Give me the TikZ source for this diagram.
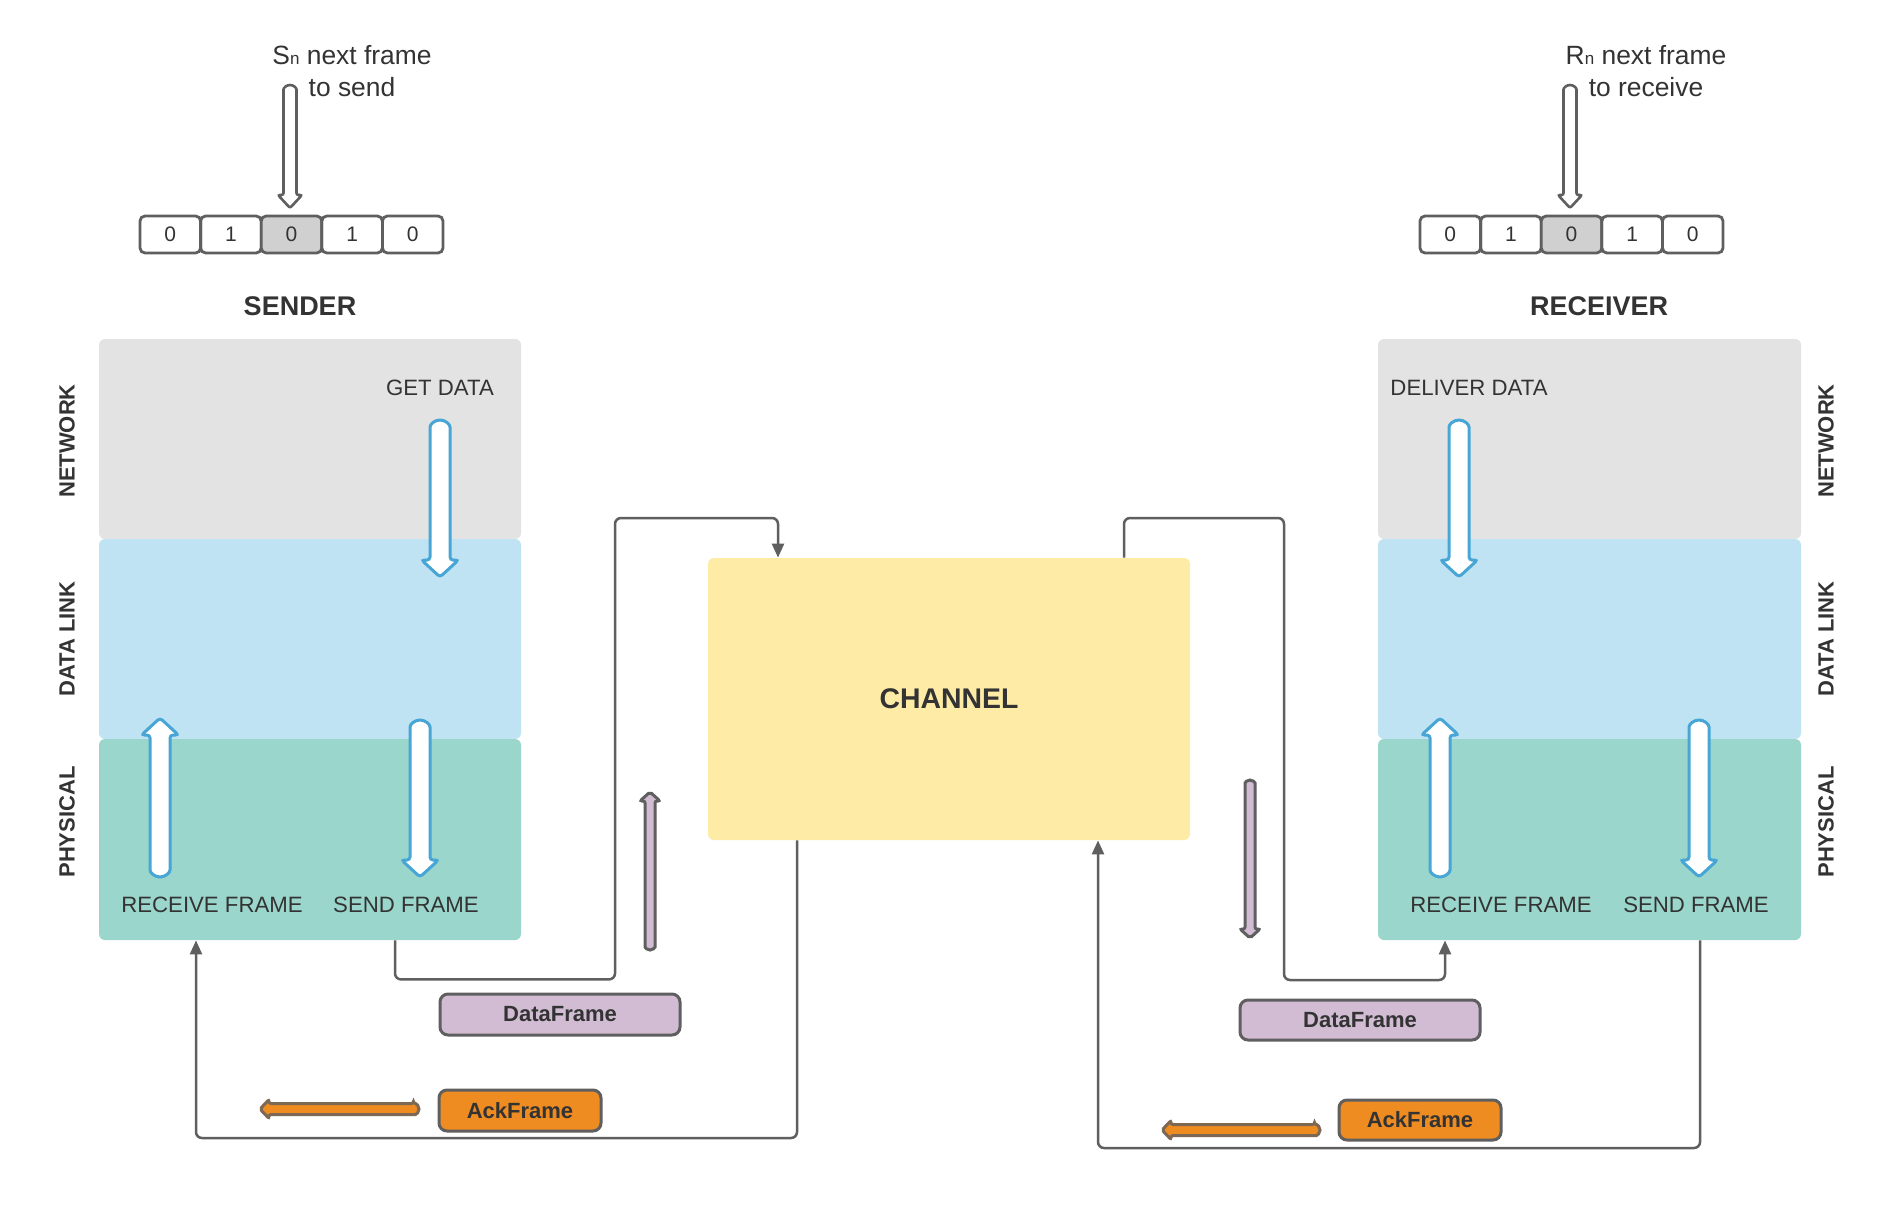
\documentclass[tikz,border=0pt]{standalone}
\usepackage{fontspec}
\setmainfont{Liberation Sans}
\usetikzlibrary{arrows.meta}
\definecolor{netgray}{HTML}{E3E3E3}
\definecolor{dlblue}{HTML}{C0E3F4}
\definecolor{phyteal}{HTML}{9AD6CB}
\definecolor{chanyel}{HTML}{FDEBA6}
\definecolor{arrblue}{HTML}{47A6D5}
\definecolor{linegray}{HTML}{5F5F5F}
\definecolor{txtcol}{HTML}{333333}
\definecolor{purp}{HTML}{D1BCD3}
\definecolor{orng}{HTML}{EE8C22}
\definecolor{cellgray}{HTML}{D0D0D0}
% vertical block arrow: style, x, ytail, ytip, shaft w, head w, head len
\newcommand{\myvarrow}[7]{%
  \pgfmathsetmacro{\arsg}{(#4>#3)?1:-1}%
  \pgfmathsetmacro{\aryt}{#3+\arsg*#5/2}%
  \pgfmathsetmacro{\aryn}{#4-\arsg*#7}%
  \pgfmathsetmacro{\arrad}{#5/4}%
  \pgfmathsetmacro{\arend}{180*\arsg}%
  \draw[#1] ({#2-#5/2},\aryt) -- ({#2-#5/2},\aryn) -- ({#2-#6/2},\aryn) -- (#2,#4)
     -- ({#2+#6/2},\aryn) -- ({#2+#5/2},\aryn) -- ({#2+#5/2},\aryt)
     arc[start angle=0, end angle=\arend, radius=\arrad pt] -- cycle;}
% leftward block arrow: style, y, xtail, xtip, shaft w, head w, head len
\newcommand{\myhlarrow}[7]{%
  \pgfmathsetmacro{\arxt}{#3-#5/2}%
  \pgfmathsetmacro{\arxn}{#4+#7}%
  \pgfmathsetmacro{\arrad}{#5/4}%
  \draw[#1] (\arxt,{#2-#5/2}) -- (\arxn,{#2-#5/2}) -- (\arxn,{#2-#6/2}) -- (#4,#2)
     -- (\arxn,{#2+#6/2}) -- (\arxn,{#2+#5/2}) -- (\arxt,{#2+#5/2})
     arc[start angle=-90, end angle=90, radius=\arrad pt] -- cycle;}
\tikzset{
  layerbox/.style={rectangle, rounded corners=3pt, draw=none, inner sep=0pt},
  cellbox/.style={rectangle, rounded corners=2.5pt, draw=linegray, line width=1.4pt,
     minimum width=30.3pt, minimum height=18.5pt, inner sep=0pt, text=txtcol,
     font=\fontsize{10.5}{12}\selectfont},
  lbl/.style={text=txtcol, inner sep=0pt, font=\fontsize{11.1}{12}\selectfont},
  layerlbl/.style={text=txtcol, inner sep=0pt, rotate=90, font=\bfseries\fontsize{11}{12}\selectfont},
  headlbl/.style={text=txtcol, inner sep=0pt, font=\bfseries\fontsize{13.5}{15}\selectfont},
  toplbl/.style={text=txtcol, inner sep=0pt, align=center, font=\fontsize{13.2}{16}\selectfont},
  framebox/.style={rectangle, rounded corners=4pt, draw=linegray, line width=1.5pt,
     inner sep=0pt, text=txtcol, font=\bfseries\fontsize{11}{12}\selectfont},
  conn/.style={draw=linegray, line width=1.25pt, rounded corners=3pt,
     -{Triangle[length=7pt,width=6pt]}},
  bluearr/.style={draw=arrblue, fill=white, line width=1.5pt, rounded corners=1.5pt},
  grayarr/.style={draw=linegray, fill=white, line width=1.3pt, rounded corners=1pt},
  purparr/.style={draw=linegray, fill=purp, line width=1.5pt, rounded corners=1pt},
  orngarr/.style={draw=linegray!80!orng, fill=orng, line width=1.5pt, rounded corners=1pt},
}
\begin{document}
\begin{tikzpicture}[x=0.5pt, y=-0.5pt]
\path[use as bounding box, fill=white] (0,0) rectangle (1899,1220);

% ---------- top arrays ----------
\node[toplbl] (snext) at (352,71) {S{\fontsize{8.5}{8}\selectfont n} next frame\\to send};
\node[toplbl] (rnext) at (1646,71) {R{\fontsize{8.5}{8}\selectfont n} next frame\\to receive};

\node[cellbox] (sc1) at (170.3,234.5) {0};
\node[cellbox] (sc2) at (230.9,234.5) {1};
\node[cellbox, fill=cellgray] (sc3) at (291.5,234.5) {\raisebox{-2.5pt}{0}};
\node[cellbox] (sc4) at (352.1,234.5) {1};
\node[cellbox] (sc5) at (412.7,234.5) {0};

\node[cellbox] (rc1) at (1450.3,234.5) {0};
\node[cellbox] (rc2) at (1510.9,234.5) {1};
\node[cellbox, fill=cellgray] (rc3) at (1571.5,234.5) {\raisebox{-2.5pt}{0}};
\node[cellbox] (rc4) at (1632.1,234.5) {1};
\node[cellbox] (rc5) at (1692.7,234.5) {0};

\myvarrow{grayarr}{290}{85}{208}{13}{24}{13}
\myvarrow{grayarr}{1570}{85}{208}{13}{24}{13}

\node[headlbl] (sender) at (300,306) {SENDER};
\node[headlbl] (receiver) at (1599,306) {RECEIVER};

% ---------- sender stack ----------
\node[layerbox, fill=netgray, minimum width=211pt, minimum height=100pt] (snet) at (310,439) {};
\node[layerbox, fill=dlblue, minimum width=211pt, minimum height=100pt] (sdl) at (310,639) {};
\node[layerbox, fill=phyteal, minimum width=211pt, minimum height=100.5pt] (sphy) at (310,839.5) {};

% ---------- receiver stack ----------
\node[layerbox, fill=netgray, minimum width=211.5pt, minimum height=100pt] (rnet) at (1589.5,439) {};
\node[layerbox, fill=dlblue, minimum width=211.5pt, minimum height=100pt] (rdl) at (1589.5,639) {};
\node[layerbox, fill=phyteal, minimum width=211.5pt, minimum height=100.5pt] (rphy) at (1589.5,839.5) {};

% layer labels
\node[layerlbl] (lnet) at (67,441) {NETWORK};
\node[layerlbl] (ldl) at (67,639) {DATA LINK};
\node[layerlbl] (lphy) at (67,822) {PHYSICAL};
\node[layerlbl] (rlnet) at (1826,441) {NETWORK};
\node[layerlbl] (rldl) at (1826,639) {DATA LINK};
\node[layerlbl] (rlphy) at (1826,822) {PHYSICAL};

% inner labels
\node[lbl] (getdata) at (440,388) {GET DATA};
\node[lbl] (deliver) at (1469,388) {DELIVER DATA};
\node[lbl] (srecv) at (212,905) {RECEIVE FRAME};
\node[lbl] (ssend) at (406,905) {SEND FRAME};
\node[lbl] (rrecv) at (1501,905) {RECEIVE FRAME};
\node[lbl] (rsend) at (1696,905) {SEND FRAME};

% blue hollow arrows
\myvarrow{bluearr}{440}{420}{577}{20}{37}{17}
\myvarrow{bluearr}{160}{877}{718}{20}{37}{17}
\myvarrow{bluearr}{420}{720}{877}{20}{37}{17}
\myvarrow{bluearr}{1459}{420}{577}{20}{37}{17}
\myvarrow{bluearr}{1440}{877}{718}{20}{37}{17}
\myvarrow{bluearr}{1699}{720}{877}{20}{37}{17}

% ---------- channel ----------
\node[layerbox, fill=chanyel, minimum width=241pt, minimum height=141pt,
      text=txtcol, font=\bfseries\fontsize{14.2}{16}\selectfont] (chan) at (949,699) {CHANNEL};

% ---------- frames ----------
\node[framebox, fill=purp, minimum width=120pt, minimum height=20.5pt] (sdf) at (560,1014.5) {DataFrame};
\node[framebox, fill=orng, minimum width=81pt, minimum height=20.5pt] (saf) at (520,1110.5) {AckFrame};
\node[framebox, fill=purp, minimum width=120pt, minimum height=20pt] (rdf) at (1360,1020) {DataFrame};
\node[framebox, fill=orng, minimum width=81pt, minimum height=20pt] (raf) at (1420,1120) {AckFrame};

\myvarrow{purparr}{650}{950}{792}{10}{20}{9}
\myvarrow{purparr}{1250}{780}{938}{10}{20}{9}
\myhlarrow{orngarr}{1109}{419}{260}{11}{19}{9}
\myhlarrow{orngarr}{1130}{1320}{1162}{11}{19}{9}

% ---------- connectors ----------
\coordinate (xs1) at (395,0);
\coordinate (xs2) at (196,0);
\coordinate (xc1) at (778,0);
\coordinate (xc2) at (797,0);
\coordinate (xc3) at (1124,0);
\coordinate (xc4) at (1284,0);
\coordinate (xc5) at (1098,0);
\coordinate (xr1) at (1445,0);
\coordinate (xr2) at (1700,0);
\coordinate (b1) at (615,518);
\coordinate (ytop) at (0,518);
\coordinate (yb) at (0,1138);
\coordinate (yr) at (0,980);
\coordinate (yb2) at (0,1148);

\draw[conn] (sphy.south -| xs1) -- ++(0,39) -| (b1) -| (chan.north -| xc1);
\draw[conn] (chan.south -| xc2) -- (xc2 |- yb) -| (sphy.south -| xs2);
\draw[conn] (chan.north -| xc3) -- (xc3 |- ytop) -| (xc4 |- yr) -| (rphy.south -| xr1);
\draw[conn] (rphy.south -| xr2) -- (xr2 |- yb2) -| (chan.south -| xc5);
\end{tikzpicture}
\end{document}
